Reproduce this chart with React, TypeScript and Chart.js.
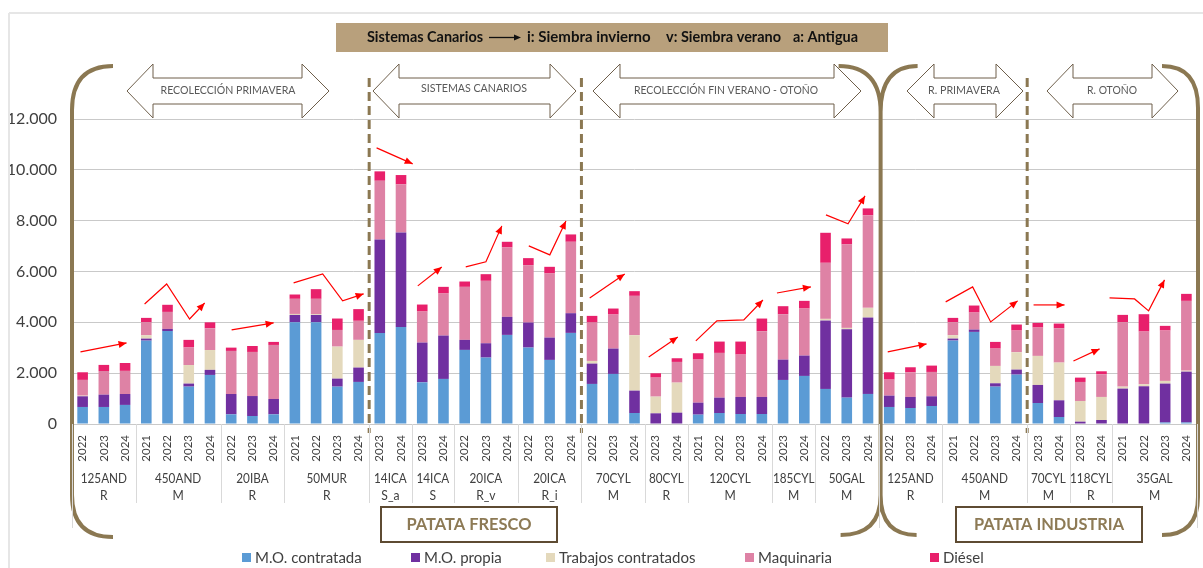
import { useEffect, useRef } from 'react';
import { Chart, registerables } from 'chart.js';

Chart.register(...registerables);

// ---------- DATA ----------
const years = [
  '2022', '2023', '2024',
  '2021', '2022', '2023', '2024',
  '2022', '2023', '2024',
  '2021', '2022', '2023', '2024',
  '2023', '2024',
  '2023', '2024',
  '2022', '2023', '2024',
  '2022', '2023', '2024',
  '2022', '2023', '2024',
  '2023', '2024',
  '2021', '2022', '2023', '2024',
  '2023', '2024',
  '2022', '2023', '2024',
  // industria
  '2022', '2023', '2024',
  '2021', '2022', '2023', '2024',
  '2023', '2024',
  '2023', '2024',
  '2021', '2022', '2023', '2024',
];

const groupLine1 = ['125AND', '450AND', '20IBA', '50MUR', '14ICA', '14ICA', '20ICA', '20ICA', '70CYL', '80CYL', '120CYL', '185CYL', '50GAL', '125AND', '450AND', '70CYL', '118CYL', '35GAL'];
const groupLine2 = ['R', 'M', 'R', 'R', 'S_a', 'S', 'R_v', 'R_i', 'M', 'R', 'M', 'M', 'M', 'R', 'M', 'M', 'R', 'M'];
const groupSizes = [3, 4, 3, 4, 2, 2, 3, 3, 3, 2, 4, 2, 3, 3, 4, 2, 2, 4];

const moContratada = [
  670, 670, 750,
  3280, 3660, 1470, 1930,
  380, 315, 380,
  4005, 4005, 1470, 1655,
  3585, 3820,
  1640, 1773,
  2915, 2613, 3506,
  3007, 2521, 3585,
  1576, 1970, 433,
  0, 0,
  368, 433, 394, 394,
  1733, 1891,
  1379, 1037, 1182,
  670, 630, 709,
  3283, 3624, 1470, 1943,
  827, 276,
  0, 0,
  0, 0, 60, 60,
];
const moPropia = [
  420, 485, 430,
  80, 80, 120, 200,
  800, 785, 605,
  285, 285, 315, 565,
  3675, 3717,
  1564, 1707,
  394, 564, 709,
  985, 879, 774,
  800, 997, 880,
  420, 446,
  472, 604, 670, 670,
  801, 801,
  2691, 2692, 3006,
  446, 434, 381,
  78, 92, 132, 197,
  709, 656,
  92, 158,
  1392, 1484, 1530, 2000,
];
const trabajosContratados = [
  25, 0, 0,
  130, 0, 730, 780,
  0, 0, 0,
  40, 30, 1260, 1090,
  0, 0,
  0, 0,
  0, 0, 0,
  0, 0, 0,
  105, 0, 2180,
  657, 1182,
  0, 0, 0, 0,
  0, 0,
  66, 52, 381,
  0, 0, 0,
  132, 0, 683, 683,
  1143, 1484,
  814, 906,
  78, 79, 105, 39,
];
const maquinaria = [
  620, 930, 910,
  510, 670, 690, 855,
  1695, 1735, 2125,
  595, 605, 655, 750,
  2310, 1890,
  1221, 1654,
  2087, 2456, 2731,
  2258, 2522, 2810,
  1511, 1340, 1549,
  748, 814,
  1694, 1760, 1667, 2586,
  1786, 1851,
  2206, 3283, 3637,
  630, 971, 958,
  512, 669, 682, 853,
  1116, 1352,
  748, 892,
  2535, 2074, 1982, 2745,
];
const diesel = [
  300, 240, 310,
  175, 280, 300, 235,
  130, 235, 120,
  170, 380, 450, 460,
  370, 368,
  275, 262,
  210, 262, 223,
  276, 262, 289,
  262, 236, 184,
  171, 145,
  250, 446, 512, 499,
  315, 302,
  1181, 236, 276,
  289, 197, 250,
  170, 276, 263, 237,
  183, 184,
  171, 118,
  288, 683, 184, 276,
];

const seriesNames = ['M.O. contratada', 'M.O. propia', 'Trabajos contratados', 'Maquinaria', 'Diésel'];
const seriesColors = ['#5B9BD5', '#7030A0', '#E4D9BC', '#DE82A5', '#E8206B'];

// trend arrows as [category index, value] points
const trendArrows = [
  [[-0.1, 2835], [2.07, 3190]],
  [[2.92, 4720], [3.96, 5510], [5.04, 4130], [5.75, 4760]],
  [[7.02, 3700], [9.0, 3980]],
  [[9.94, 5550], [11.31, 5905], [12.25, 4845], [13.24, 5120]],
  [[13.85, 10865], [15.55, 10235]],
  [[15.79, 5435], [16.92, 6180]],
  [[18.05, 6180], [19.0, 6380], [19.75, 7795]],
  [[21.02, 7010], [22.01, 6655], [22.77, 7990]],
  [[23.89, 4960], [25.54, 5905]],
  [[26.67, 2640], [28.04, 3425]],
  [[28.89, 3270], [29.88, 4055], [31.15, 4095], [32.05, 4880]],
  [[32.71, 5155], [34.31, 5395]],
  [[35.02, 8230], [36.06, 7875], [36.86, 8975]],
  [[37.93, 2835], [39.76, 3150]],
  [[40.66, 4805], [41.93, 5395], [42.78, 4015], [44.05, 4845]],
  [[44.8, 4685], [46.26, 4685]],
  [[46.68, 2480], [47.91, 2955]],
  [[48.38, 4960], [49.56, 4920], [50.22, 4450], [50.97, 5670]],
];

const bannerTitle = 'Sistemas Canarios';
const bannerItems = ['i: Siembra invierno', 'v: Siembra verano', 'a: Antigua'];
const seasonLabels = ['RECOLECCIÓN PRIMAVERA', 'SISTEMAS CANARIOS', 'RECOLECCIÓN FIN VERANO - OTOÑO', 'R. PRIMAVERA', 'R. OTOÑO'];
const sectionLabels = ['PATATA FRESCO', 'PATATA INDUSTRIA'];

const FONT = "Lato, 'Open Sans', sans-serif";
const BROWN = '#8B7852';

const fmtThousands = (v: number) => {
  const s = String(Math.round(v));
  return s.length > 3 ? s.slice(0, -3) + '.' + s.slice(-3) : s;
};

function squeezeText(ctx: CanvasRenderingContext2D, t: string, x: number, y: number, w: number) {
  const mw = ctx.measureText(t).width;
  ctx.fillText(t, x, y, Math.min(mw, w));
}

function arrowHead(ctx: CanvasRenderingContext2D, x0: number, y0: number, x1: number, y1: number, len: number, hw: number) {
  const a = Math.atan2(y1 - y0, x1 - x0);
  ctx.beginPath();
  ctx.moveTo(x1, y1);
  ctx.lineTo(x1 - len * Math.cos(a) + hw * Math.sin(a), y1 - len * Math.sin(a) - hw * Math.cos(a));
  ctx.lineTo(x1 - len * Math.cos(a) - hw * Math.sin(a), y1 - len * Math.sin(a) + hw * Math.cos(a));
  ctx.closePath();
  ctx.fill();
}

function doubleArrow(ctx: CanvasRenderingContext2D, tipL: number, baseL: number, baseR: number, tipR: number) {
  const top = 64, bot = 118, st = 78, sb = 104, yc = 91;
  ctx.beginPath();
  ctx.moveTo(tipL, yc);
  ctx.lineTo(baseL, top);
  ctx.lineTo(baseL, st);
  ctx.lineTo(baseR, st);
  ctx.lineTo(baseR, top);
  ctx.lineTo(tipR, yc);
  ctx.lineTo(baseR, bot);
  ctx.lineTo(baseR, sb);
  ctx.lineTo(baseL, sb);
  ctx.lineTo(baseL, bot);
  ctx.closePath();
  ctx.fillStyle = '#FFFFFF';
  ctx.fill();
  ctx.strokeStyle = '#6E5F4B';
  ctx.lineWidth = 1;
  ctx.stroke();
}

const annotationPlugin = {
  id: 'annotations',
  afterDraw(chart: any) {
    const ctx: CanvasRenderingContext2D = chart.ctx;
    const xs = chart.scales.x;
    const ys = chart.scales.y;
    const px = (i: number) => xs.getPixelForValue(i);
    const half = (px(1) - px(0)) / 2;
    const edge = (i: number) => px(i) - half;
    const y0 = ys.getPixelForValue(0);
    ctx.save();

    // outer frame lines
    ctx.strokeStyle = '#E6E6E6';
    ctx.lineWidth = 2;
    ctx.beginPath();
    ctx.moveTo(9, 13); ctx.lineTo(1203, 13);
    ctx.moveTo(9, 13); ctx.lineTo(9, 568);
    ctx.stroke();

    // banner
    ctx.fillStyle = '#B8A07C';
    ctx.fillRect(336, 23, 552, 29);
    ctx.fillStyle = '#111111';
    ctx.font = `bold 15px ${FONT}`;
    ctx.textBaseline = 'middle';
    ctx.textAlign = 'left';
    squeezeText(ctx, bannerTitle, 367, 37, 116);
    ctx.strokeStyle = '#111111';
    ctx.lineWidth = 1.3;
    ctx.beginPath(); ctx.moveTo(489, 37.5); ctx.lineTo(516, 37.5); ctx.stroke();
    arrowHead(ctx, 489, 37.5, 521, 37.5, 7, 3);
    const bx = [527, 666, 793];
    const bw = [124, 115, 65];
    bannerItems.forEach((t, i) => squeezeText(ctx, t, bx[i], 37, bw[i]));

    // season double arrows
    const arrows = [
      [127, 153, 302, 329, 228, 135],
      [373, 399, 550, 576, 474, 106],
      [593, 620, 834, 861, 726, 184],
      [907, 934, 996, 1023, 964, 72],
      [1047, 1073, 1152, 1178, 1112, 50],
    ];
    arrows.forEach((a, i) => {
      doubleArrow(ctx, a[0], a[1], a[2], a[3]);
      ctx.fillStyle = '#595959';
      ctx.font = `11.5px ${FONT}`;
      ctx.textAlign = 'center';
      ctx.textBaseline = 'middle';
      squeezeText(ctx, seasonLabels[i], a[4], i === 1 ? 88 : 90, a[5]);
    });

    // dashed separators
    ctx.strokeStyle = BROWN;
    ctx.lineWidth = 3;
    ctx.setLineDash([9, 5]);
    [14, 24, 45].forEach((b) => {
      const x = edge(b);
      ctx.beginPath(); ctx.moveTo(x, 78); ctx.lineTo(x, 433); ctx.stroke();
    });
    ctx.setLineDash([]);

    // brackets
    ctx.lineWidth = 4;
    ctx.strokeStyle = BROWN;
    const xl = edge(0), xm = edge(38) + 2, xr = Math.min(edge(53) + 1, 1199);
    ctx.beginPath();
    ctx.moveTo(xl + 41, 66); ctx.quadraticCurveTo(xl, 66, xl, 110);
    ctx.lineTo(xl, 495); ctx.quadraticCurveTo(xl, 537, xl + 41, 537);
    ctx.stroke();
    ctx.beginPath();
    ctx.moveTo(xm - 42, 66); ctx.quadraticCurveTo(xm, 66, xm, 112);
    ctx.lineTo(xm, 495); ctx.quadraticCurveTo(xm, 535, xm - 40, 535);
    ctx.moveTo(xm + 37, 66); ctx.quadraticCurveTo(xm, 66, xm, 112);
    ctx.moveTo(xm, 495); ctx.quadraticCurveTo(xm, 535, xm + 36, 535);
    ctx.stroke();
    ctx.beginPath();
    ctx.moveTo(xr - 36, 66); ctx.quadraticCurveTo(xr, 66, xr, 108);
    ctx.lineTo(xr, 497); ctx.quadraticCurveTo(xr, 535, xr - 36, 535);
    ctx.stroke();

    // red trend arrows
    ctx.strokeStyle = '#FF0000';
    ctx.fillStyle = '#FF0000';
    ctx.lineWidth = 1.2;
    trendArrows.forEach((pts) => {
      const p = pts.map(([i, v]) => [px(i), ys.getPixelForValue(v)]);
      ctx.beginPath();
      ctx.moveTo(p[0][0], p[0][1]);
      for (let k = 1; k < p.length; k++) ctx.lineTo(p[k][0], p[k][1]);
      ctx.stroke();
      const a = p[p.length - 2], b = p[p.length - 1];
      arrowHead(ctx, a[0], a[1], b[0], b[1], 8, 3.5);
    });

    // group separators and labels
    ctx.strokeStyle = '#D9D9D9';
    ctx.lineWidth = 1;
    let start = 0;
    const bounds = [0];
    groupSizes.forEach((n) => { start += n; bounds.push(start); });
    bounds.forEach((b) => {
      const x = Math.round(edge(b)) + 0.5;
      const long = b === 0 || b === 38 || b === 53;
      ctx.beginPath(); ctx.moveTo(x, y0); ctx.lineTo(x, long ? 528 : 503); ctx.stroke();
    });
    ctx.fillStyle = '#404040';
    ctx.font = `13.5px ${FONT}`;
    ctx.textAlign = 'center';
    ctx.textBaseline = 'middle';
    start = 0;
    groupSizes.forEach((n, g) => {
      const cx = (px(start) + px(start + n - 1)) / 2;
      const w1 = ctx.measureText(groupLine1[g]).width * 0.87;
      ctx.fillText(groupLine1[g], cx, 479, w1);
      const w2 = ctx.measureText(groupLine2[g]).width * 0.9;
      ctx.fillText(groupLine2[g], cx, 496, w2);
      start += n;
    });

    // section boxes
    const boxes = [[381, 557, 125], [956, 1142, 150]];
    boxes.forEach((bb, i) => {
      ctx.fillStyle = '#FFFFFF';
      ctx.fillRect(bb[0], 507, bb[1] - bb[0], 35);
      ctx.strokeStyle = '#5E4B32';
      ctx.lineWidth = 2;
      ctx.strokeRect(bb[0], 507, bb[1] - bb[0], 35);
      ctx.fillStyle = '#8D7A55';
      ctx.font = `bold 17px ${FONT}`;
      ctx.textAlign = 'center';
      squeezeText(ctx, sectionLabels[i], (bb[0] + bb[1]) / 2, 525, bb[2]);
    });

    // legend
    const lx = [242, 411, 546, 745, 930];
    ctx.font = `15px ${FONT}`;
    ctx.textAlign = 'left';
    ctx.textBaseline = 'middle';
    seriesNames.forEach((name, i) => {
      ctx.fillStyle = seriesColors[i];
      ctx.fillRect(lx[i], 553, 9, 9);
      ctx.fillStyle = '#404040';
      ctx.fillText(name, lx[i] + 13, 558);
    });

    ctx.restore();
  },
};

export default function App() {
  const ref = useRef<HTMLCanvasElement | null>(null);

  useEffect(() => {
    if (!ref.current) return;
    const values = [moContratada, moPropia, trabajosContratados, maquinaria, diesel];
    const chart = new Chart(ref.current, {
      type: 'bar',
      data: {
        labels: years,
        datasets: values.map((d, i) => ({
          label: seriesNames[i],
          data: d,
          backgroundColor: seriesColors[i],
          borderWidth: 0,
          barPercentage: 0.5,
          categoryPercentage: 1,
        })),
      },
      options: {
        animation: false,
        responsive: true,
        maintainAspectRatio: false,
        layout: { padding: { top: 119, right: 6, left: 0, bottom: 0 } },
        plugins: {
          legend: { display: false },
          tooltip: { enabled: false },
        },
        scales: {
          x: {
            stacked: true,
            grid: { display: false, drawTicks: false },
            border: { display: false },
            ticks: {
              autoSkip: false,
              maxRotation: 90,
              minRotation: 90,
              padding: 11,
              color: '#404040',
              font: { family: FONT, size: 11.5 },
            },
            afterFit: (s: any) => {
              s.height = 144;
              s.paddingLeft = 0;
              s.paddingRight = 0;
            },
          },
          y: {
            stacked: true,
            min: 0,
            max: 12000,
            ticks: {
              stepSize: 2000,
              padding: 15,
              color: '#404040',
              font: { family: FONT, size: 16 },
              callback: (v: any) => fmtThousands(Number(v)),
            },
            grid: { color: '#C9C9C9', drawTicks: false },
            border: { display: false },
            afterFit: (s: any) => {
              s.width = 72;
              s.paddingTop = 0;
              s.paddingBottom = 0;
            },
          },
        },
      },
      plugins: [annotationPlugin],
    });
    return () => chart.destroy();
  }, []);

  return (
    <div style={{ position: 'absolute', left: 0, top: 0, width: 1203, height: 568, background: '#FFFFFF' }}>
      <canvas ref={ref} />
    </div>
  );
}
